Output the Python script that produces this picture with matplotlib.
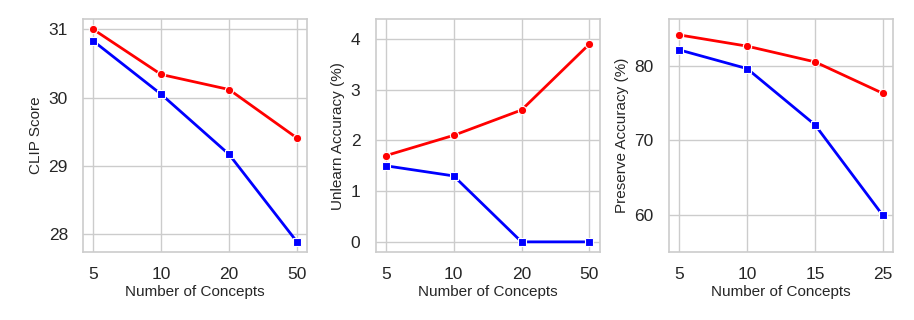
import matplotlib
matplotlib.use('Agg')
import matplotlib.pyplot as plt
import seaborn as sns

sns.set_theme(style='whitegrid')
plt.rcParams['font.family'] = ['Liberation Sans', 'DejaVu Sans']

xlabel = 'Number of Concepts'

# panel 1: CLIP score
clip_x = ['5', '10', '20', '50']
clip_red = [31.0, 30.34, 30.12, 29.41]
clip_blue = [30.83, 30.05, 29.17, 27.89]

# panel 2: unlearn accuracy
unl_x = ['5', '10', '20', '50']
unl_red = [1.7, 2.1, 2.6, 3.9]
unl_blue = [1.5, 1.3, 0.0, 0.0]

# panel 3: preserve accuracy
pre_x = ['5', '10', '15', '25']
pre_red = [84.1, 82.6, 80.5, 76.3]
pre_blue = [82.1, 79.6, 72.1, 60.0]

panels = [
    (clip_x, clip_red, clip_blue, 'CLIP Score', (27.74, 31.15), [28, 29, 30, 31]),
    (unl_x, unl_red, unl_blue, 'Unlearn Accuracy (%)', (-0.2, 4.39), [0, 1, 2, 3, 4]),
    (pre_x, pre_red, pre_blue, 'Preserve Accuracy (%)', (55.1, 86.2), [60, 70, 80]),
]

fig = plt.figure(figsize=(9.14, 3.2), dpi=100)
lefts = [0.091, 0.411, 0.732]
width = 0.245
bottom = 0.2125
height = 0.94 - 0.2125

for left, (xs, red, blue, ylab, ylim, yt) in zip(lefts, panels):
    ax = fig.add_axes([left, bottom, width, height])
    pos = list(range(len(xs)))
    ax.plot(pos, red, color='red', lw=2, marker='o', ms=6,
            mec='white', mew=0.8)
    ax.plot(pos, blue, color='blue', lw=2, marker='s', ms=6,
            mec='white', mew=0.8)
    ax.set_xticks(pos)
    ax.set_xticklabels(xs)
    ax.set_xlim(-0.15, len(xs) - 1 + 0.15)
    ax.set_ylim(*ylim)
    ax.set_yticks(yt)
    ax.set_xlabel(xlabel, fontsize=11, labelpad=2)
    ax.set_ylabel(ylab, fontsize=11, labelpad=4)
    ax.tick_params(labelsize=12.5, colors='#262626', pad=5)
    for s in ax.spines.values():
        s.set_color('#cccccc')
        s.set_linewidth(1.2)

fig.savefig('out.png', dpi=100)
